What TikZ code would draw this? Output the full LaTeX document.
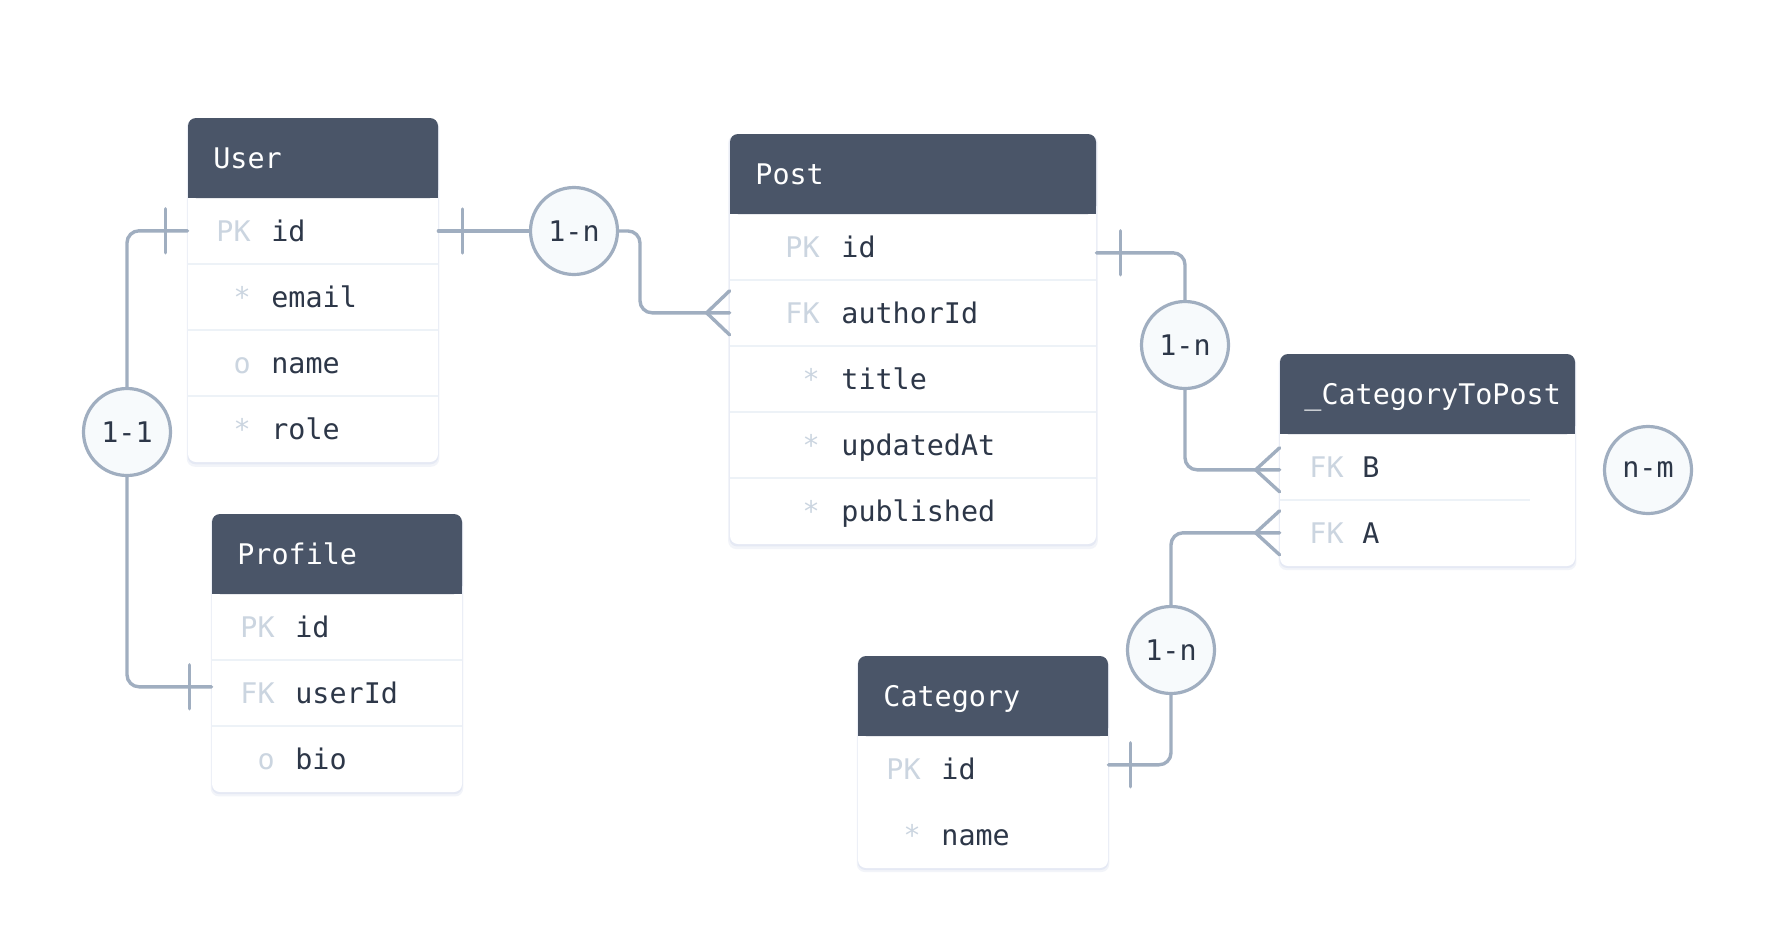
\documentclass[tikz,border=0pt]{standalone}
\usepackage{fontspec}
\usepackage{tikz}
\usetikzlibrary{calc}
\usetikzlibrary{shadows}
\usepackage{xcolor}
\newfontfamily\ErMono{DejaVu Sans Mono}
\definecolor{ColHead}{RGB}{74,85,104}
\definecolor{ColText}{RGB}{45,55,72}
\definecolor{ColKey}{RGB}{203,213,224}
\definecolor{ColLine}{RGB}{160,174,192}
\definecolor{ColRule}{RGB}{237,242,247}
\definecolor{ColBadge}{RGB}{247,250,252}
\definecolor{ColShade}{RGB}{214,220,238}
\tikzstyle{TableBox}=[rectangle,rounded corners=4pt,fill=white,inner sep=0pt,
drop shadow={shadow xshift=0pt,shadow yshift=-1.5pt,shadow scale=1.01,opacity=.3,fill=ColShade},
drop shadow={shadow xshift=0pt,shadow yshift=-.8pt,shadow scale=1.004,opacity=.45,fill=ColShade}]
\tikzstyle{TableHead}=[rectangle,rounded corners=4pt,fill=ColHead,minimum height=40pt,inner sep=0pt]
\tikzstyle{HeadText}=[anchor=base west,inner sep=0pt,text=white,font=\ErMono\fontsize{14.2}{17}\selectfont]
\tikzstyle{FieldName}=[anchor=base west,inner sep=0pt,text height=10.2pt,text depth=0pt,text=ColText,
font=\ErMono\fontsize{14.2}{17}\selectfont]
\tikzstyle{FieldKey}=[anchor=base east,inner sep=0pt,text=ColKey,font=\ErMono\fontsize{14.2}{17}\selectfont]
\tikzstyle{FieldRule}=[ColRule,line width=1pt]
\tikzstyle{RelBadge}=[circle,draw=ColLine,fill=ColBadge,line width=1.6pt,minimum size=43.5pt,inner sep=0pt,
text=ColText,font=\ErMono\fontsize{14.2}{17}\selectfont]
\tikzstyle{RelEdge}=[ColLine,line width=1.7pt,line cap=round,rounded corners=6pt]
\tikzstyle{RelMark}=[ColLine,line width=1.7pt,line cap=round]

\begin{document}
\begin{tikzpicture}[x=.5pt,y=-.5pt]
        \fill[white](0,0)rectangle(1768,938);
        \useasboundingbox(0,0)rectangle(1768,938);
        % User
        \node[TableBox,minimum width=125pt,minimum height=172pt](user)at(313,290){};
        \node[TableHead,minimum width=125pt](userhead)at(313,158){};
        \fill[ColHead]($(userhead.south west)+(0,-12)$)rectangle(userhead.south east);
        \node[HeadText](usertitle)at(213,168){User};
        \draw[FieldRule](188,264)--(438,264);
        \draw[FieldRule](188,330)--(438,330);
        \draw[FieldRule](188,396)--(438,396);
        \node[FieldKey](userk1)at(251,241){PK};
        \node[FieldName](userid)at(271,241){id};
        \node[FieldKey](userk2)at(251,307){*};
        \node[FieldName](useremail)at(271,307){email};
        \node[FieldKey](userk3)at(251,373){o};
        \node[FieldName](username)at(271,373){name};
        \node[FieldKey](userk4)at(251,439){*};
        \node[FieldName](userrole)at(271,439){role};
        % Profile
        \node[TableBox,minimum width=125pt,minimum height=139pt](profile)at(337,653){};
        \node[TableHead,minimum width=125pt](profhead)at(337,554){};
        \fill[ColHead]($(profhead.south west)+(0,-12)$)rectangle(profhead.south east);
        \node[HeadText](proftitle)at(237,564){Profile};
        \draw[FieldRule](212,660)--(462,660);
        \draw[FieldRule](212,726)--(462,726);
        \node[FieldKey](profk1)at(275,637){PK};
        \node[FieldName](profid)at(295,637){id};
        \node[FieldKey](profk2)at(275,703){FK};
        \node[FieldName](profuserid)at(295,703){userId};
        \node[FieldKey](profk3)at(275,769){o};
        \node[FieldName](profbio)at(295,769){bio};
        % Post
        \node[TableBox,minimum width=183pt,minimum height=205pt](post)at(913,339){};
        \node[TableHead,minimum width=183pt](posthead)at(913,174){};
        \fill[ColHead]($(posthead.south west)+(0,-12)$)rectangle(posthead.south east);
        \node[HeadText](posttitle)at(755,184){Post};
        \draw[FieldRule](730,280)--(1096,280);
        \draw[FieldRule](730,346)--(1096,346);
        \draw[FieldRule](730,412)--(1096,412);
        \draw[FieldRule](730,478)--(1096,478);
        \node[FieldKey](postk1)at(820,257){PK};
        \node[FieldName](postid)at(841,257){id};
        \node[FieldKey](postk2)at(820,323){FK};
        \node[FieldName](postauthorid)at(841,323){authorId};
        \node[FieldKey](postk3)at(820,389){*};
        \node[FieldName](posttitlef)at(841,389){title};
        \node[FieldKey](postk4)at(820,455){*};
        \node[FieldName](postupdated)at(841,455){updatedAt};
        \node[FieldKey](postk5)at(820,521){*};
        \node[FieldName](postpublished)at(841,521){published};
        % _CategoryToPost
        \node[TableBox,minimum width=147.5pt,minimum height=106pt](catpost)at(1427.5,460){};
        \node[TableHead,minimum width=147.5pt](catposthead)at(1427.5,394){};
        \fill[ColHead]($(catposthead.south west)+(0,-12)$)rectangle(catposthead.south east);
        \node[HeadText](catposttitle)at(1304,404){\_CategoryToPost};
        \draw[FieldRule](1280,500)--(1530,500);
        \node[FieldKey](catpostk1)at(1344,477){FK};
        \node[FieldName](catpostb)at(1362,477){B};
        \node[FieldKey](catpostk2)at(1344,543){FK};
        \node[FieldName](catposta)at(1362,543){A};
        % Category
        \node[TableBox,minimum width=125pt,minimum height=106pt](category)at(983,762){};
        \node[TableHead,minimum width=125pt](cathead)at(983,696){};
        \fill[ColHead]($(cathead.south west)+(0,-12)$)rectangle(cathead.south east);
        \node[HeadText](cattitle)at(883,706){Category};
        \node[FieldKey](catk1)at(921,779){PK};
        \node[FieldName](categoryid)at(941,779){id};
        \node[FieldKey](catk2)at(921,845){*};
        \node[FieldName](categoryname)at(941,845){name};
        % relations
        \node[RelBadge](userprofile)at(127,432){1-1};
        \node[RelBadge](userpost)at(574,231){1-n};
        \node[RelBadge](postcat)at(1185,345){1-n};
        \node[RelBadge](catcat)at(1171,650){1-n};
        \node[RelBadge](catpostnm)at(1648,470){n-m};
        \draw[RelEdge](user.west|-userid)-|(userprofile.north);
        \draw[RelEdge](userprofile.south)|-($(profile.west|-profuserid)+(0,-6)$);
        \draw[RelEdge](user.east|-userpost)--(userpost.west);
        \draw[RelEdge](userpost.east)-|(640,280)|-(post.west|-postauthorid);
        \draw[RelEdge]($(post.east|-postid)+(0,6)$)-|(postcat.north);
        \draw[RelEdge](postcat.south)|-($(catpost.west|-catpostb)+(0,3)$);
        \draw[RelEdge]($(category.east|-categoryid)+(0,-4)$)-|(catcat.south);
        \draw[RelEdge](catcat.north)|-(catpost.west|-catposta);
        \draw[RelMark]($(user.west|-userid)+(-22,-22)$)--++(0,44);
        \draw[RelMark]($(user.east|-userpost)+(24,-22)$)--++(0,44);
        \draw[RelMark]($(profile.west|-profuserid)+(-22,-28)$)--++(0,44);
        \draw[RelMark]($(post.east|-postid)+(24,-16)$)--++(0,44);
        \draw[RelMark]($(category.east|-categoryid)+(22,-26)$)--++(0,44);
        \draw[RelMark]($(post.west|-postauthorid)+(0,-22)$)--++(-23,22)--++(23,22);
        \draw[RelMark]($(catpost.west|-catpostb)+(0,-19)$)--++(-24,22)--++(24,22);
        \draw[RelMark]($(catpost.west|-catposta)+(0,-22)$)--++(-24,22)--++(24,22);
    \end{tikzpicture}
\end{document}
